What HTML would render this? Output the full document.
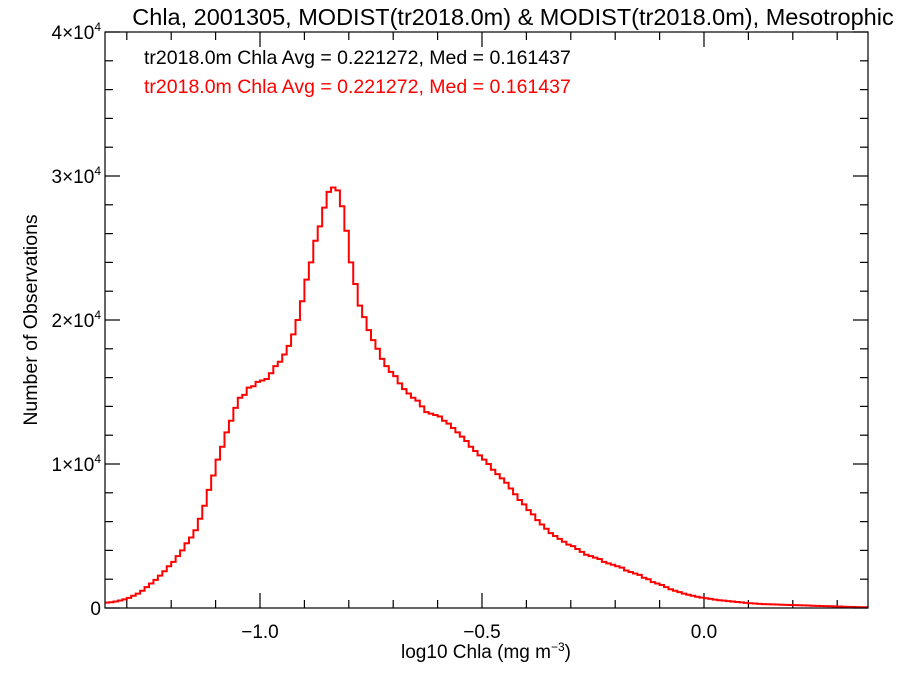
<!DOCTYPE html>
<html><head><meta charset="utf-8"><style>
html,body{margin:0;padding:0;background:#fff;}
svg{display:block;font-family:"Liberation Sans",sans-serif;}
</style></head><body>
<svg id="chart" width="900" height="675" viewBox="0 0 900 675" xmlns="http://www.w3.org/2000/svg">
<text x="513" y="25" font-size="23.5" text-anchor="middle">Chla, 2001305, MODIST(tr2018.0m) &amp; MODIST(tr2018.0m), Mesotrophic</text>
<text x="144" y="64" font-size="19.5">tr2018.0m Chla Avg = 0.221272, Med = 0.161437</text>
<text x="144" y="93" font-size="19.5" fill="#ff0000">tr2018.0m Chla Avg = 0.221272, Med = 0.161437</text>
<text transform="translate(37,320) rotate(-90)" font-size="19.5" text-anchor="middle">Number of Observations</text>
<text x="486" y="658" font-size="19" text-anchor="middle">log10 Chla (mg m<tspan font-size="12" dy="-7">−3</tspan><tspan dy="7">)</tspan></text>
<g id="axes"></g>
<path id="hist" fill="none" stroke="#ff0000" stroke-width="2"/>
<rect x="105" y="32" width="763" height="576" fill="none" stroke="#000" stroke-width="1.2"/>
</svg>
<script>
const binStart = -1.35;
const binWidth = 0.01;
const counts = [
0.37,0.40,0.45,0.52,0.60, 0.70,0.85,1.0,1.2,1.45, 1.7,1.95,2.25,2.55,2.9, 3.2,3.6,4.0,4.5,4.9,
5.4,6.2,7.1,8.2,9.2, 10.3,11.2,12.2,13.0,13.9, 14.6,14.8,15.3,15.4,15.7, 15.8,15.9,16.3,16.8,17.1,
17.6,18.2,19.0,20.0,21.3, 22.8,24.0,25.5,26.5,27.8, 28.9,29.2,29.0,27.9,26.2, 24.0,22.5,21.0,20.2,19.3,
18.6,18.0,17.3,16.8,16.4, 16.1,15.6,15.2,14.9,14.6, 14.4,14.0,13.6,13.5,13.4, 13.3,13.0,12.8,12.5,12.2,
11.9,11.6,11.2,10.9,10.6, 10.3,10.0,9.6,9.3,9.0, 8.7,8.3,7.9,7.5,7.2, 6.8,6.5,6.1,5.8,5.5,
5.2,5.0,4.8,4.6,4.4, 4.3,4.1,3.9,3.7,3.6, 3.5,3.4,3.2,3.1,3.0, 2.9,2.8,2.6,2.5,2.4,
2.3,2.1,2.0,1.8,1.7, 1.6,1.45,1.3,1.2,1.1, 1.0,0.92,0.85,0.78,0.72, 0.68,0.63,0.58,0.54,0.51,
0.48,0.45,0.42,0.39,0.36, 0.33,0.31,0.29,0.27,0.26, 0.25,0.24,0.23,0.22,0.21, 0.20,0.19,0.18,0.17,0.16,
0.15,0.14,0.13,0.12,0.11, 0.10,0.09,0.08,0.07,0.06,0.05,0.05
].map(v => v * 1000);
const xTickValues = [-1.0, -0.5, 0.0];
const xTickLabels = ["−1.0", "−0.5", "0.0"];
const yTickValues = [0, 10000, 20000, 30000, 40000];
const yTickMantissa = ["0", "1", "2", "3", "4"];

const X0 = 105, X1 = 868, Y0 = 608, Y1 = 32;
const xMin = -1.3491, xMax = 0.3694, yMin = 0, yMax = 40000;
const sx = v => X0 + (v - xMin) / (xMax - xMin) * (X1 - X0);
const sy = v => Y0 - (v - yMin) / (yMax - yMin) * (Y0 - Y1);
const NS = "http://www.w3.org/2000/svg";
const axes = document.getElementById("axes");
function line(x1,y1,x2,y2,name){
  const l = document.createElementNS(NS,"line");
  l.setAttribute("x1",x1);l.setAttribute("y1",y1);l.setAttribute("x2",x2);l.setAttribute("y2",y2);
  l.setAttribute("stroke","#000");l.setAttribute("stroke-width","1.2");
  
  
  axes.appendChild(l);
}
for (let i = -13; i <= 3; i++) {
  const v = i / 10, x = sx(v);
  if (x < X0 || x > X1) continue;
  const major = (i % 5 === 0);
  const len = major ? 15 : 8;
  line(x, Y0, x, Y0 - len, "x-tick");
  line(x, Y1, x, Y1 + len, "x-tick-top");
}
xTickValues.forEach((v, i) => {
  const t = document.createElementNS(NS,"text");
  t.setAttribute("x", sx(v)); t.setAttribute("y", 638);
  t.setAttribute("font-size","19"); t.setAttribute("text-anchor","middle");
  t.textContent = xTickLabels[i];
  
  
  axes.appendChild(t);
});
for (let v = 0; v <= 40000; v += 2000) {
  const y = sy(v), major = (v % 10000 === 0), len = major ? 15 : 8;
  line(X0, y, X0 + len, y, "y-tick");
  line(X1, y, X1 - len, y, "y-tick-right");
}
yTickValues.forEach((v, i) => {
  const t = document.createElementNS(NS,"text");
  t.setAttribute("x", 101); t.setAttribute("y", sy(v) + 7);
  t.setAttribute("font-size","19"); t.setAttribute("text-anchor","end");
  if (v === 0) t.textContent = "0";
  else t.innerHTML = yTickMantissa[i] + "×10<tspan font-size='12' dy='-8'>4</tspan>";
  
  
  axes.appendChild(t);
});
let d = "";
counts.forEach((c, i) => {
  const xa = sx(binStart + i * binWidth), xb = sx(binStart + (i + 1) * binWidth), y = sy(c);
  d += (i === 0 ? "M" : "L") + Math.max(xa, X0).toFixed(2) + "," + y.toFixed(2) + "L" + Math.min(xb, X1).toFixed(2) + "," + y.toFixed(2);
});
document.getElementById("hist").setAttribute("d", d);
</script>
</body></html>
